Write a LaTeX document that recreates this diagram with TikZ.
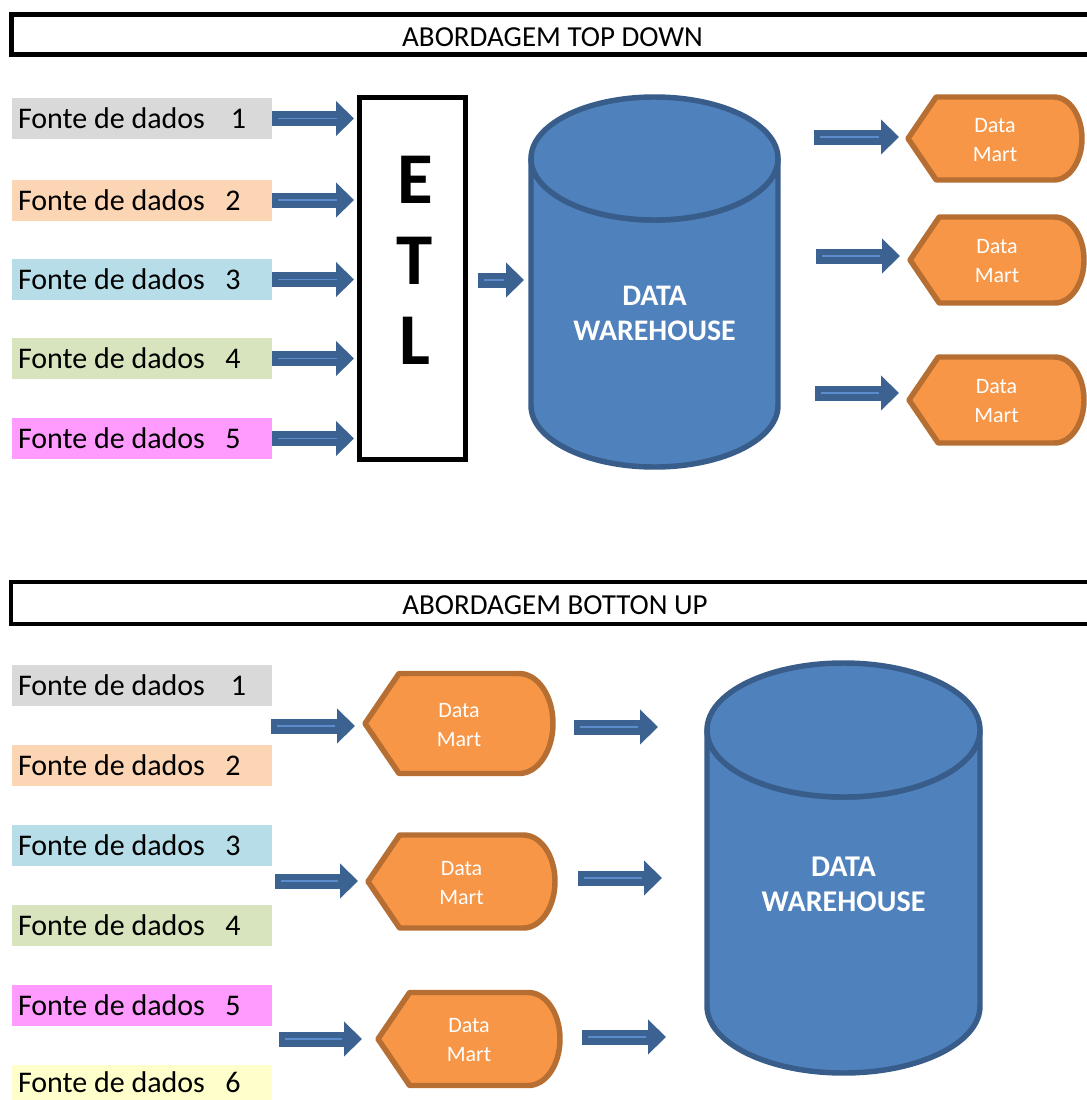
\documentclass[tikz,border=0pt]{standalone}
\usepackage{fontspec}
\setmainfont{Carlito}
\usetikzlibrary{arrows.meta}
\definecolor{cgrey}{RGB}{217,217,217}
\definecolor{cpeach}{RGB}{252,213,181}
\definecolor{cblue}{RGB}{183,222,232}
\definecolor{cgreen}{RGB}{215,228,189}
\definecolor{cpink}{RGB}{255,155,255}
\definecolor{cyellow}{RGB}{255,255,204}
\definecolor{arrowblue}{RGB}{60,98,146}
\definecolor{arrowlight}{RGB}{92,140,204}
\definecolor{dwfill}{RGB}{79,129,189}
\definecolor{dwstroke}{RGB}{56,93,138}
\definecolor{dmfill}{RGB}{247,150,70}
\definecolor{dmstroke}{RGB}{182,110,50}
\newcommand\fdtext[2]{\spaceskip=0pt\xspaceskip=0pt\relax Fonte de dados\hspace{#1}#2}
\newcommand\datamart[5]{%
  \pgfmathsetmacro\dmo{0.34*#4}\pgfmathsetmacro\dmh{#4/2}%
  \draw[dmshape] (#2,#3) -- (#2+\dmo,#3-\dmh) -- (#5-\dmo,#3-\dmh)
    arc[start angle=-90,end angle=90,x radius=\dmo,y radius=\dmh]
    -- (#2+\dmo,#3+\dmh) -- cycle;
  \node[dmtext] (#1) at ({(#2+#5)/2},#3+1.5) {Data\\Mart};}
\newcommand\dwcyl[7]{% name, L, R, topcy, botcy, rx, ry
  \draw[dwshape] (#2,#4) -- (#2,#5) arc[start angle=180,end angle=0,x radius=#6,y radius=#7]
    -- (#3,#4) arc[start angle=0,end angle=180,x radius=#6,y radius=#7] -- cycle;
  \draw[dwshape] ({(#2+#3)/2},#4) ellipse[x radius=#6,y radius=#7];}
\begin{document}
\begin{tikzpicture}[x=0.75pt,y=-0.75pt,
  hdrbox/.style={draw=black,inner sep=0pt,minimum width=#1},
  hdrtext/.style={font=\fontsize{21.75pt}{26pt}\selectfont,inner sep=0pt},
  src/.style={minimum width=195pt,minimum height=30.75pt,text width=186pt,align=left,
    inner xsep=4.5pt,inner ysep=0pt,font=\fontsize{22.5pt}{27pt}\selectfont},
  etlbox/.style={draw=black,line width=3.75pt,minimum width=79.5pt,minimum height=271.5pt,inner sep=0pt},
  etltext/.style={font=\fontsize{54.75pt}{60.4pt}\selectfont\bfseries,align=center,inner sep=0pt},
  dwshape/.style={draw=dwstroke,fill=dwfill,line width=4.1pt,line join=round},
  dwtext/.style={font=\fontsize{22.4pt}{26.25pt}\selectfont\bfseries,text=white,align=center,inner sep=0pt},
  dmshape/.style={draw=dmstroke,fill=dmfill,line width=4.1pt,line join=round},
  dmtext/.style={font=\fontsize{16.5pt}{21.75pt}\selectfont,text=white,align=center,inner sep=0pt},
  bigarrow/.style={draw=arrowblue,line width=11.25pt,-{Triangle[width=25.5pt,length=13.5pt]},
    postaction={draw=arrowlight,line width=1.2pt,arrows=-,shorten <=4.5pt,shorten >=15pt}}
]
\useasboundingbox (0,0) rectangle (1087,1100);
\clip (0,0) rectangle (1087,1100);

% ---------- TOP DOWN ----------
\node[hdrbox=812.25pt,line width=3.75pt,minimum height=30pt] (h1) at (552.5,34.5) {};
\node[hdrtext] (h1t) at (552.5,37.5) {ABORDAGEM TOP DOWN};

\node[src,fill=cgrey]  (t1) at (142,118.5) {\fdtext{19.5pt}{1}};
\node[src,fill=cpeach] (t2) at (142,200)   {\fdtext{15.25pt}{2}};
\node[src,fill=cblue]  (t3) at (142,279.5) {\fdtext{15.25pt}{3}};
\node[src,fill=cgreen] (t4) at (142,358.5) {\fdtext{15.25pt}{4}};
\node[src,fill=cpink]  (t5) at (142,438.5) {\fdtext{15.25pt}{5}};

\node[etlbox] (etl) at (412.5,278.5) {};
\node[etltext] (etlt) at (415,260.5) {E\\T\\L};

\foreach \s in {t1,t2,t3,t4,t5}
  \draw[bigarrow,shorten >=2.25pt] (\s.east) -- (\s.east -| etl.west);

\dwcyl{dw1}{531}{778}{158.5}{405.5}{123.5}{61.5}
\node[dwtext] (dw1t) at (654.5,313.5) {DATA\\WAREHOUSE};

\coordinate (e0s) at (478,280); \coordinate (e0e) at (524,280);
\draw[bigarrow] (e0s) -- (e0e);

\datamart{dm1}{908}{138.5}{83}{1082}
\datamart{dm2}{910}{260}{86}{1084}
\datamart{dm3}{909}{400}{86}{1084}

\coordinate (d1s) at (814,137); \coordinate (d1e) at (899,137);
\coordinate (d2s) at (816,256); \coordinate (d2e) at (900,256);
\coordinate (d3s) at (815,393); \coordinate (d3e) at (899,393);
\draw[bigarrow] (d1s) -- (d1e);
\draw[bigarrow] (d2s) -- (d2e);
\draw[bigarrow] (d3s) -- (d3e);

% ---------- BOTTON UP ----------
\node[hdrbox=816pt,line width=3pt,minimum height=31.5pt] (h2) at (555,603) {};
\node[hdrtext] (h2t) at (555,605) {ABORDAGEM BOTTON UP};

\node[src,fill=cgrey]   (b1) at (142,685)  {\fdtext{19.5pt}{1}};
\node[src,fill=cpeach]  (b2) at (142,765)  {\fdtext{15.25pt}{2}};
\node[src,fill=cblue]   (b3) at (142,845)  {\fdtext{15.25pt}{3}};
\node[src,fill=cgreen]  (b4) at (142,925)  {\fdtext{15.25pt}{4}};
\node[src,fill=cpink]   (b5) at (142,1005) {\fdtext{15.25pt}{5}};
\node[src,fill=cyellow,minimum height=26.25pt] (b6) at (142,1082.5) {\fdtext{15.25pt}{6}};

\datamart{bdm1}{365}{723.5}{100}{553}
\datamart{bdm2}{368}{881.5}{93}{555}
\datamart{bdm3}{378}{1039}{93}{560}

\dwcyl{dw2}{707}{980}{730}{1006}{136.5}{67}
\node[dwtext,font=\fontsize{22.6pt}{26.25pt}\selectfont\bfseries] (dw2t) at (843.5,884.5) {DATA\\WAREHOUSE};

\coordinate (p1s) at (271,726);  \coordinate (p1e) at (355,726);
\coordinate (p2s) at (275,881);  \coordinate (p2e) at (358,881);
\coordinate (p3s) at (279,1039); \coordinate (p3e) at (362,1039);
\draw[bigarrow] (p1s) -- (p1e);
\draw[bigarrow] (p2s) -- (p2e);
\draw[bigarrow] (p3s) -- (p3e);

\coordinate (q1s) at (574,727);  \coordinate (q1e) at (658,727);
\coordinate (q2s) at (578,878);  \coordinate (q2e) at (662,878);
\coordinate (q3s) at (582,1037); \coordinate (q3e) at (666,1037);
\draw[bigarrow] (q1s) -- (q1e);
\draw[bigarrow] (q2s) -- (q2e);
\draw[bigarrow] (q3s) -- (q3e);
\end{tikzpicture}
\end{document}
